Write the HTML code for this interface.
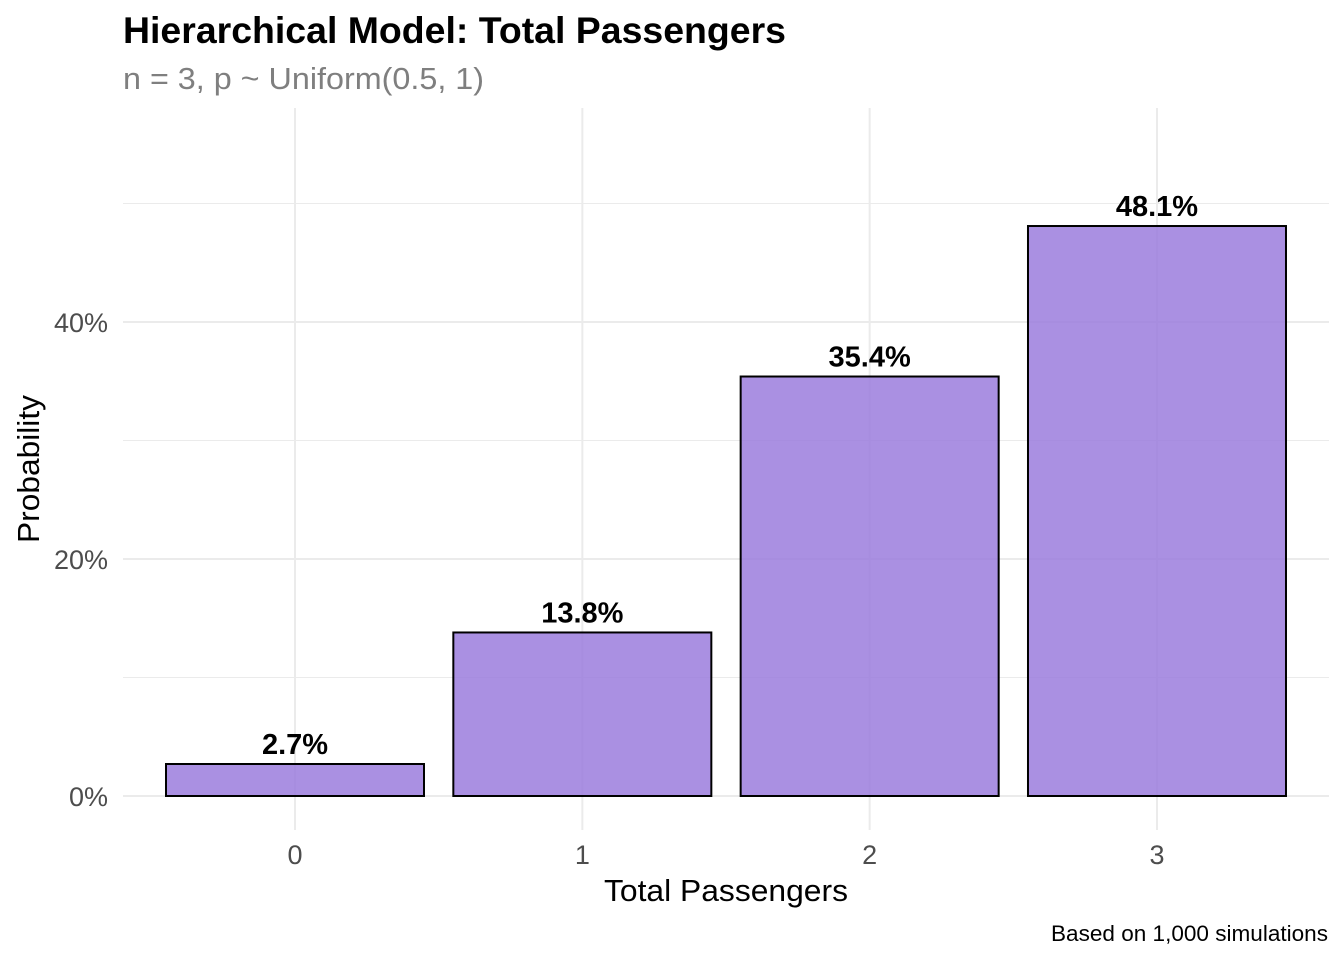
<!DOCTYPE html>
<html><head><meta charset="utf-8"><style>
body{margin:0;background:#fff;}
svg text{font-family:"Liberation Sans",Arial,sans-serif;}
</style></head><body>
<svg id="chart" width="1344" height="960" xmlns="http://www.w3.org/2000/svg">
<rect width="1344" height="960" fill="#fff"/>
<text x="123" y="43" font-size="37" font-weight="bold" fill="#000" textLength="663" lengthAdjust="spacingAndGlyphs">Hierarchical Model: Total Passengers</text>
<text x="123" y="89" font-size="31" fill="#7f7f7f" textLength="361" lengthAdjust="spacingAndGlyphs">n = 3, p ~ Uniform(0.5, 1)</text>
<g id="grid"></g>
<g id="bars"></g>
<g id="labels"></g>
<g id="ticks"></g>
<text x="726" y="901" font-size="31" text-anchor="middle" fill="#000" textLength="244" lengthAdjust="spacingAndGlyphs">Total Passengers</text>
<text transform="translate(39,469) rotate(-90)" font-size="31" text-anchor="middle" fill="#000" textLength="148" lengthAdjust="spacingAndGlyphs">Probability</text>
<text x="1328" y="941" font-size="22.5" text-anchor="end" fill="#000" textLength="277" lengthAdjust="spacingAndGlyphs">Based on 1,000 simulations</text>
</svg>
<script>
const categories = ["0","1","2","3"];
const values = [2.7, 13.8, 35.4, 48.1];
const valueLabels = ["2.7%","13.8%","35.4%","48.1%"];
const yTicks = [0, 20, 40];
const yTickLabels = ["0%","20%","40%"];
const yMinor = [10, 30, 50];

const NS = "http://www.w3.org/2000/svg";
const xScale = i => 295 + i * 287.33;
const yScale = v => 796 - v * 11.85;
const panelTop = 108, panelBottom = 830, panelLeft = 123, panelRight = 1329;
function mk(tag, attrs, parent, txt){
  const e = document.createElementNS(NS, tag);
  for (const k in attrs) e.setAttribute(k, attrs[k]);
  if (txt !== undefined) e.textContent = txt;
  document.getElementById(parent).appendChild(e);
  return e;
}
yMinor.forEach(v => {
  const l = mk("line", {x1:panelLeft, x2:panelRight, y1:yScale(v), y2:yScale(v), stroke:"#ebebeb", "stroke-width":1}, "grid");
  
  
});
yTicks.forEach((v, i) => {
  const l = mk("line", {x1:panelLeft, x2:panelRight, y1:yScale(v), y2:yScale(v), stroke:"#ebebeb", "stroke-width":2}, "grid");
  
  
  const t = mk("text", {x:108, y:yScale(v) + 10, "font-size":27, "text-anchor":"end", fill:"#4d4d4d"}, "ticks", yTickLabels[i]);
  
  
});
categories.forEach((c, i) => {
  const x = xScale(i);
  const g = mk("line", {x1:x, x2:x, y1:panelTop, y2:panelBottom, stroke:"#ebebeb", "stroke-width":2}, "grid");
  
  
  const w = 258;
  const b = mk("rect", {x:x - w/2, y:yScale(values[i]), width:w, height:yScale(0) - yScale(values[i]), fill:"#9b7ddd", "fill-opacity":0.85, stroke:"#000", "stroke-width":2}, "bars");
  
  
  const t = mk("text", {x:x, y:yScale(values[i]) - 10, "font-size":29, "font-weight":"bold", "text-anchor":"middle", fill:"#000"}, "labels", valueLabels[i]);
  
  
  const xt = mk("text", {x:x, y:864, "font-size":27, "text-anchor":"middle", fill:"#4d4d4d"}, "ticks", c);
  
  
});
</script>
</body></html>
